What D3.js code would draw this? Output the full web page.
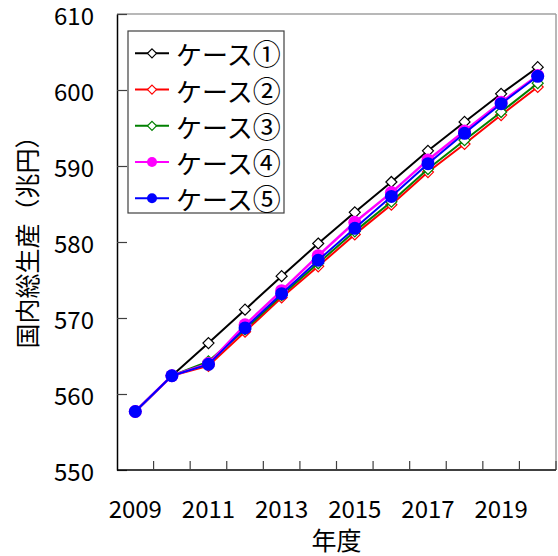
<!DOCTYPE html>
<html>
<head>
<meta charset="utf-8">
<script src="https://cdn.jsdelivr.net/npm/d3@7"></script>
<style>
  html, body { margin: 0; padding: 0; background: #fff; }
  svg { display: block; }
  text { font-family: "Noto Sans CJK JP", "Noto Sans", sans-serif; fill: #000; }
</style>
</head>
<body>
<svg id="chart" width="558" height="556"></svg>
<script>
const years = ["2009","2010","2011","2012","2013","2014","2015","2016","2017","2018","2019","2020"];
const yearLabels = ["2009","2011","2013","2015","2017","2019"];
const yTicks = [550, 560, 570, 580, 590, 600, 610];
const seriesNames = ["ケース①","ケース②","ケース③","ケース④","ケース⑤"];
const case1 = [557.7, 562.4, 566.7, 571.1, 575.5, 579.8, 583.9, 587.9, 592.0, 595.8, 599.5, 603.0];
const case2 = [557.7, 562.4, 563.7, 568.2, 572.7, 576.8, 581.0, 584.9, 589.2, 592.9, 596.7, 600.4];
const case3 = [557.7, 562.4, 564.3, 568.5, 573.0, 577.2, 581.4, 585.3, 589.6, 593.4, 597.1, 600.9];
const case4 = [557.7, 562.4, 564.0, 569.1, 573.6, 578.2, 582.6, 586.5, 590.8, 594.6, 598.4, 601.9];
const case5 = [557.7, 562.4, 563.9, 568.7, 573.2, 577.6, 581.8, 586.0, 590.3, 594.3, 598.2, 601.8];
const seriesValues = [case1, case2, case3, case4, case5];
const colors = ["#000000", "#ff0000", "#008000", "#ff00ff", "#0000ff"];
const markers = ["diamond", "diamond", "diamond", "circle", "circle"];
const yTitle = "国内総生産（兆円）";
const xTitle = "年度";

const svg = d3.select("#chart");
const L = 117, R = 556, T = 14, B = 470;

const x = d3.scaleBand().domain(years).range([L, R]).padding(0);
const cx = d => x(d) + x.bandwidth() / 2;
const y = d3.scaleLinear().domain([550, 610]).range([B, T]);

// frame: top and right gray
svg.append("line").attr("x1", L).attr("x2", R).attr("y1", T).attr("y2", T)
  .attr("stroke", "#a0a0a0").attr("stroke-width", 1.5);
svg.append("line").attr("x1", R).attr("x2", R).attr("y1", T).attr("y2", B)
  .attr("stroke", "#a0a0a0").attr("stroke-width", 1.5);

// y axis
const yAxis = svg.append("g").attr("transform", `translate(${L},0)`)
  .call(d3.axisLeft(y).tickValues(yTicks).tickSizeInner(-10).tickSizeOuter(0).tickPadding(23).tickFormat(d3.format("d")));
yAxis.select(".domain").attr("stroke", "#000").attr("stroke-width", 1.5);
yAxis.selectAll(".tick line").attr("stroke", "#404040").attr("stroke-width", 1.2);
yAxis.selectAll(".tick text").attr("font-size", 24).attr("font-family", "Noto Sans CJK JP")
  .attr("dy", "0.42em").attr("fill", "#000");

// x axis: tick marks at category boundaries
const boundaries = years.map(d => x(d) + x.bandwidth());
const xAxisG = svg.append("g").attr("transform", `translate(0,${B})`);
xAxisG.append("line").attr("x1", L).attr("x2", R).attr("y1", 0).attr("y2", 0)
  .attr("stroke", "#000").attr("stroke-width", 1.5);
xAxisG.selectAll("line.tk").data(boundaries).join("line").attr("class", "tk")
  .attr("x1", d => d).attr("x2", d => d).attr("y1", 0).attr("y2", -9)
  .attr("stroke", "#404040").attr("stroke-width", 1.2);
xAxisG.selectAll("text.lbl").data(yearLabels).join("text").attr("class", "lbl")
  .attr("x", d => cx(d)).attr("y", 48).attr("text-anchor", "middle")
  .attr("font-size", 24).text(d => d);

// axis titles
svg.append("text").attr("x", (L + R) / 2).attr("y", 539).attr("text-anchor", "middle")
  .attr("dominant-baseline", "central").attr("font-size", 25).text(xTitle);
svg.append("text").attr("transform", `translate(26,236) rotate(-90)`)
  .attr("text-anchor", "middle").attr("dominant-baseline", "central")
  .attr("font-size", 25).text(yTitle);

// series
const diamond = s => `M0,${-s}L${s},0L0,${s}L${-s},0Z`;
const line = d3.line().x((d, i) => cx(years[i])).y(d => y(d));
seriesValues.forEach((vals, si) => {
  const g = svg.append("g");
  g.append("path").datum(vals).attr("d", line).attr("fill", "none")
    .attr("stroke", colors[si]).attr("stroke-width", si === 3 ? 2.5 : 2).attr("stroke-linejoin", "round");
  vals.forEach((v, i) => {
    if (markers[si] === "diamond") {
      g.append("path").attr("d", diamond(5.5)).attr("transform", `translate(${cx(years[i])},${y(v)})`)
        .attr("fill", "#fff").attr("stroke", colors[si]).attr("stroke-width", 1.2);
    } else {
      g.append("circle").attr("cx", cx(years[i])).attr("cy", y(v)).attr("r", 6.5)
        .attr("fill", colors[si]);
    }
  });
});

// legend
const lg = svg.append("g");
lg.append("rect").attr("x", 128).attr("y", 31).attr("width", 156).attr("height", 182)
  .attr("fill", "#fff").attr("stroke", "#404040").attr("stroke-width", 1.2);
seriesNames.forEach((name, si) => {
  const ry = 53.3 + si * 36.25;
  lg.append("line").attr("x1", 135).attr("x2", 169).attr("y1", ry).attr("y2", ry)
    .attr("stroke", colors[si]).attr("stroke-width", 2);
  if (markers[si] === "diamond") {
    lg.append("path").attr("d", diamond(4.5)).attr("transform", `translate(152,${ry})`)
      .attr("fill", "#fff").attr("stroke", colors[si]).attr("stroke-width", 1.2);
  } else {
    lg.append("circle").attr("cx", 152).attr("cy", ry).attr("r", 5).attr("fill", colors[si]);
  }
  const t = lg.append("text").attr("x", 176).attr("y", ry).attr("dominant-baseline", "central")
    .attr("font-size", 26);
  t.append("tspan").text(name.slice(0, -1));
  t.append("tspan").attr("font-size", 28).text(name.slice(-1));
});
</script>
</body>
</html>
